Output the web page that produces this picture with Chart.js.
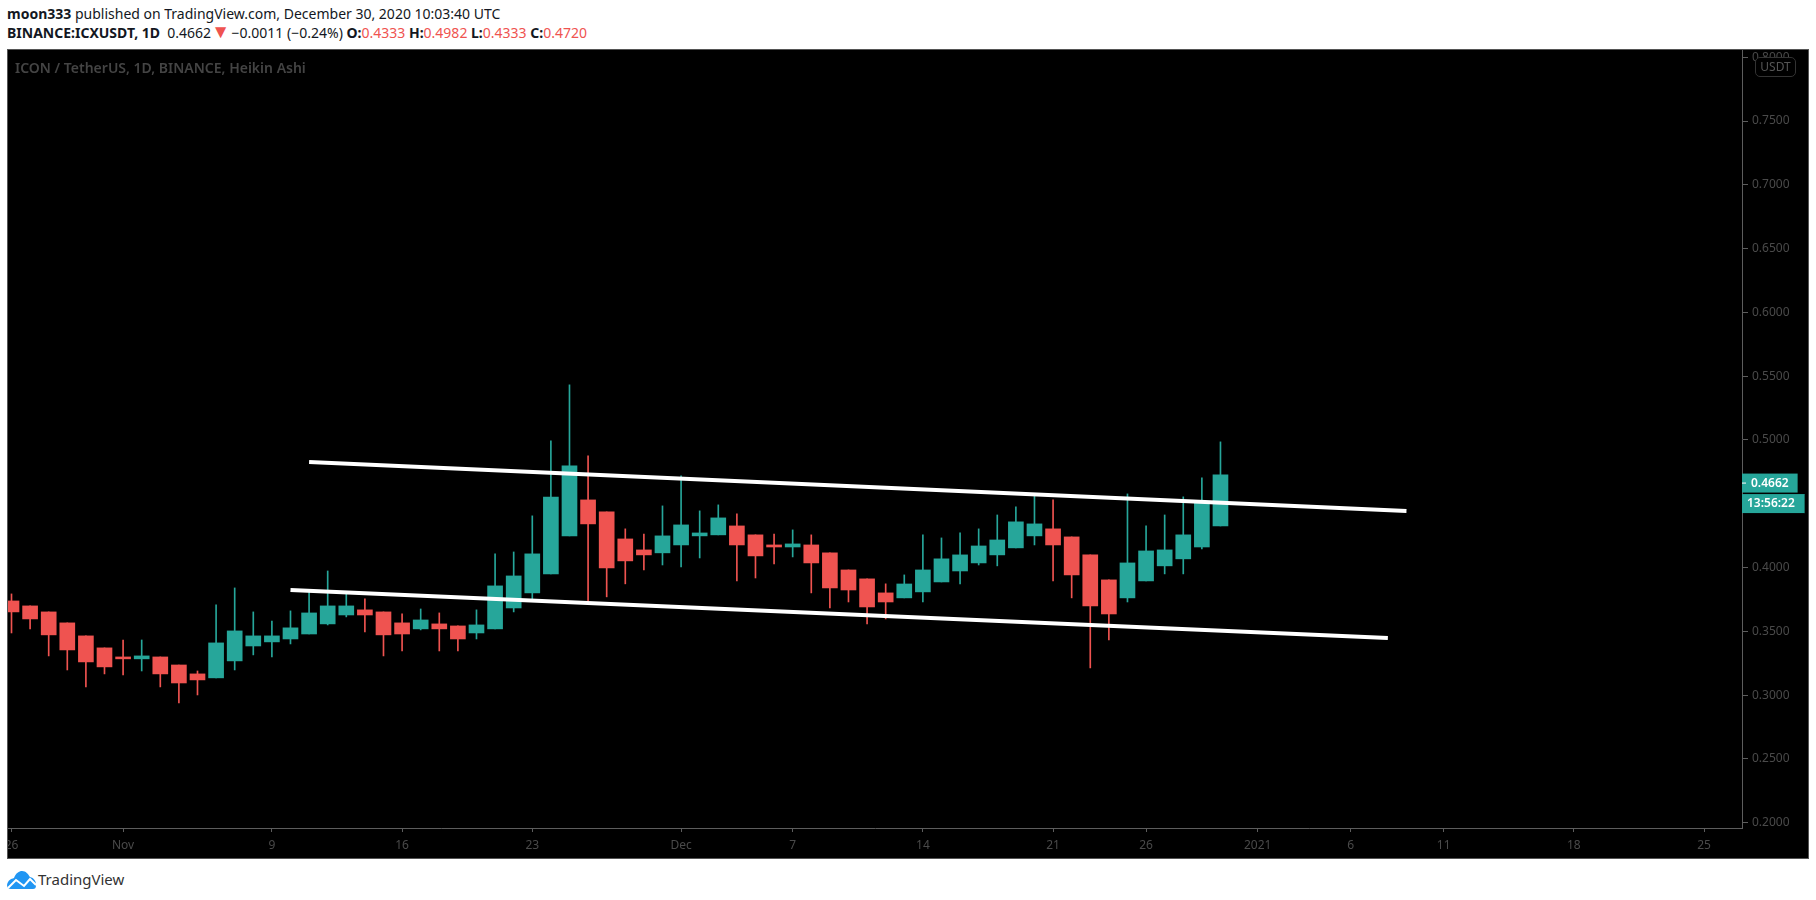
<!DOCTYPE html>
<html lang="en">
  <head>
    <meta charset="UTF-8" />
    <title>ICXUSDT</title>
    <script src="https://cdn.jsdelivr.net/npm/chart.js@4"></script>
    <style>
      html,
      body {
        margin: 0;
        background: #fff;
        font-family: "Noto Sans", sans-serif;
      }
      .head {
        position: absolute;
        left: 7px;
        font-size: 14px;
        line-height: 20px;
        color: #131722;
        white-space: nowrap;
      }
      .head b {
        font-weight: 700;
      }
      .head i {
        font-style: normal;
        color: #ef5350;
      }
      .head .arrow {
        font-size: 19px;
        line-height: 0;
        margin: 0 -2px 0 0;
      }
      #frame {
        position: absolute;
        left: 7px;
        top: 49px;
        width: 1802px;
        height: 810px;
        box-sizing: border-box;
        border: 1px solid #555;
        background: #000;
        overflow: hidden;
      }
      #chart {
        display: block;
      }
      #title {
        position: absolute;
        left: 15px;
        top: 58px;
        font-size: 14px;
        font-weight: 600;
        line-height: 20px;
        color: #444;
        white-space: nowrap;
      }
      #unit {
        position: absolute;
        left: 1755px;
        top: 57px;
        width: 39px;
        height: 18px;
        border: 1px solid #333;
        border-radius: 5px;
        background: #000;
        color: #555;
        font-size: 12px;
        line-height: 18px;
        text-align: center;
      }
      #brand {
        position: absolute;
        left: 38px;
        top: 868px;
        font-size: 15px;
        line-height: 22px;
        color: #333;
      }
      #logo {
        position: absolute;
        left: 7px;
        top: 870px;
      }
    </style>
  </head>
  <body>
    <div class="head" style="top: 4px">
      <b>moon333</b> published on TradingView.com, December 30, 2020 10:03:40 UTC
    </div>
    <div class="head" style="top: 23px">
      <b>BINANCE:ICXUSDT, 1D</b>&nbsp; 0.4662<i class="arrow">▼</i> −0.0011 (−0.24%)
      <b>O:</b><i>0.4333</i> <b>H:</b><i>0.4982</i> <b>L:</b><i>0.4333</i>
      <b>C:</b><i>0.4720</i>
    </div>
    <div id="frame"><canvas id="chart" width="1800" height="808"></canvas></div>
    <div id="title">ICON / TetherUS, 1D, BINANCE, Heikin Ashi</div>
    <div id="unit">USDT</div>
    <svg id="logo" width="30" height="20" viewBox="0 0 30 20">
      <path
        d="M0 15 C1 10 4 9 7 8 C9 3 12 1 15 1 C19 1 21 4 23 7 C27 8 29 11 29 15 C29 18 28 19 26 19 L4 19 C1 19 0 17 0 15 Z"
        fill="#2196f3"
      />
      <path d="M1 18 L9 10 L17 16 L23 9 L29 15" fill="none" stroke="#fff" stroke-width="2" />
    </svg>
    <div id="brand">TradingView</div>

    <script>
      // day number counted from Oct 26, one entry per candle
      const days = Array.from({ length: 66 }, (_, i) => i);

      const opens = [
        0.3738, 0.3699, 0.3652, 0.3566, 0.3464, 0.337, 0.3299, 0.3284, 0.3299, 0.3236, 0.3166,
        0.3135, 0.3268, 0.3385, 0.3417, 0.344, 0.3479, 0.3558, 0.3628, 0.3668, 0.3652, 0.3566,
        0.3519, 0.3558, 0.3542, 0.3487, 0.3519, 0.3683, 0.3801, 0.395, 0.4248, 0.453, 0.4436,
        0.4224, 0.4138, 0.4115, 0.4177, 0.4248, 0.4256, 0.4326, 0.4256, 0.4177, 0.4161, 0.4177,
        0.4115, 0.3981, 0.3911, 0.3801, 0.3762, 0.3809, 0.3887, 0.3973, 0.4036, 0.4099, 0.4154,
        0.4248, 0.4303, 0.424, 0.4099, 0.3903, 0.3762, 0.3895, 0.4013, 0.4068, 0.4161, 0.4326,
      ];
      const highs = [
        0.3793, 0.3699, 0.3652, 0.3566, 0.3464, 0.337, 0.3432, 0.3432, 0.3299, 0.3236, 0.3189,
        0.3707, 0.384, 0.3652, 0.3581, 0.366, 0.3824, 0.3973, 0.3798, 0.3754, 0.3652, 0.3636,
        0.3675, 0.3644, 0.3542, 0.3668, 0.4107, 0.4122, 0.4405, 0.4993, 0.5432, 0.4875, 0.4436,
        0.4303, 0.4263, 0.4483, 0.4718, 0.4444, 0.4491, 0.442, 0.4256, 0.4263, 0.4295, 0.4256,
        0.4115, 0.3981, 0.3911, 0.3872, 0.3942, 0.4256, 0.4232, 0.4271, 0.4303, 0.4412, 0.4475,
        0.4561, 0.453, 0.424, 0.4099, 0.3903, 0.4577, 0.4326, 0.4412, 0.4554, 0.4703, 0.4985,
      ];
      const lows = [
        0.3487, 0.3519, 0.3307, 0.3197, 0.3064, 0.3166, 0.3158, 0.3189, 0.3064, 0.2939, 0.3001,
        0.3135, 0.3197, 0.3315, 0.3299, 0.3401, 0.3479, 0.355, 0.3613, 0.3495, 0.3307, 0.3346,
        0.3511, 0.3346, 0.3346, 0.344, 0.3519, 0.3652, 0.3746, 0.395, 0.4248, 0.3738, 0.377,
        0.3872, 0.3981, 0.402, 0.4005, 0.4075, 0.4256, 0.3895, 0.3918, 0.4028, 0.4083, 0.3801,
        0.3683, 0.373, 0.3558, 0.3597, 0.3762, 0.373, 0.3887, 0.3871, 0.402, 0.4013, 0.4154,
        0.4177, 0.3895, 0.3762, 0.3213, 0.3432, 0.373, 0.3895, 0.395, 0.395, 0.4146, 0.4326,
      ];
      const closes = [
        0.3652, 0.3597, 0.3472, 0.3354, 0.326, 0.3221, 0.3284, 0.3307, 0.3166, 0.3095, 0.3119,
        0.3409, 0.3503, 0.3464, 0.3464, 0.3527, 0.3644, 0.3699, 0.3699, 0.3628, 0.3472, 0.3479,
        0.3589, 0.3519, 0.344, 0.355, 0.3856, 0.3934, 0.4107, 0.4553, 0.4797, 0.4342, 0.3997,
        0.4052, 0.4099, 0.4248, 0.4334, 0.4271, 0.4389, 0.4177, 0.4091, 0.4161, 0.4185, 0.4036,
        0.384, 0.3824, 0.3691, 0.373, 0.3871, 0.3981, 0.4068, 0.4099, 0.4169, 0.4216, 0.4358,
        0.4342, 0.4177, 0.3942, 0.3699, 0.3636, 0.4036, 0.413, 0.4138, 0.4256, 0.4514, 0.4726,
      ];

      // the two hand drawn channel lines
      const upperDays = [16, 75];
      const upperPrices = [0.4827, 0.4444];
      const lowerDays = [15, 74];
      const lowerPrices = [0.3824, 0.3448];

      const xTickDays = [0, 6, 14, 21, 28, 36, 42, 49, 56, 61, 67, 72, 77, 84, 91];
      const xTickLabels = ["26", "Nov", "9", "16", "23", "Dec", "7", "14", "21", "26", "2021", "6", "11", "18", "25"];
      const yTicks = [0.2, 0.25, 0.3, 0.35, 0.4, 0.45, 0.5, 0.55, 0.6, 0.65, 0.7, 0.75, 0.8];

      const lastPrice = 0.4662;
      const countdown = "13:56:22";

      const green = "#26a69a";
      const red = "#ef5350";
      const axisColor = "#5d5d5d";
      const labelColor = "#4a4a4a";
      const font = { family: "'Noto Sans', sans-serif", size: 12 };

      const candleColors = days.map((_, i) => (closes[i] >= opens[i] ? green : red));

      // tags on the price axis for the last price and the bar countdown
      const priceTags = {
        id: "priceTags",
        afterDraw(chart) {
          const c = chart.ctx;
          const y = chart.scales.y.getPixelForValue(lastPrice);
          const left = chart.chartArea.right;
          c.save();
          c.fillStyle = green;
          c.fillRect(left, y - 9.5, 55, 19);
          c.fillRect(left, y + 11, 63, 19);
          c.fillStyle = "#17695f";
          c.fillRect(left + 55, y - 9.5, 1, 19);
          c.fillRect(left + 62, y + 11, 1, 19);
          c.fillStyle = "#fff";
          c.fillRect(left, y - 0.5, 4, 1);
          c.font = "600 12px 'Noto Sans', sans-serif";
          c.textBaseline = "middle";
          c.fillText(lastPrice.toFixed(4), left + 9, y + 0.5);
          c.fillText(countdown, left + 5, y + 21);
          c.restore();
        },
      };

      new Chart(document.getElementById("chart"), {
        data: {
          datasets: [
            {
              type: "line",
              data: upperDays.map((d, i) => ({ x: d, y: upperPrices[i] })),
              borderColor: "#fff",
              borderWidth: 4,
              pointRadius: 0,
              order: 0,
            },
            {
              type: "line",
              data: lowerDays.map((d, i) => ({ x: d, y: lowerPrices[i] })),
              borderColor: "#fff",
              borderWidth: 4,
              pointRadius: 0,
              order: 0,
            },
            {
              type: "bar",
              data: days.map((d, i) => ({ x: d, y: [opens[i], closes[i]] })),
              backgroundColor: candleColors,
              barThickness: 15,
              grouped: false,
              order: 1,
            },
            {
              type: "bar",
              data: days.map((d, i) => ({ x: d, y: [lows[i], highs[i]] })),
              backgroundColor: candleColors,
              barThickness: 1,
              grouped: false,
              order: 2,
            },
          ],
        },
        options: {
          responsive: false,
          animation: false,
          plugins: { legend: { display: false }, tooltip: { enabled: false } },
          layout: { padding: 0 },
          scales: {
            x: {
              type: "linear",
              min: -0.188,
              max: 93.04,
              offset: false,
              border: { color: axisColor },
              grid: { offset: false, drawOnChartArea: false, color: axisColor, tickLength: 4 },
              ticks: {
                color: labelColor,
                font,
                padding: 6,
                maxRotation: 0,
                autoSkip: false,
                callback: (v) => xTickLabels[xTickDays.indexOf(v)],
              },
              afterBuildTicks(scale) {
                scale.ticks = xTickDays.map((value) => ({ value }));
              },
              afterFit(scale) {
                scale.height = 30;
                scale.paddingLeft = scale.paddingRight = 0;
              },
            },
            y: {
              position: "right",
              min: 0.1958,
              max: 0.8057,
              border: { color: axisColor },
              grid: { drawOnChartArea: false, color: axisColor, tickLength: 6 },
              ticks: {
                color: labelColor,
                font,
                padding: 4,
                callback: (v) => v.toFixed(4),
              },
              afterBuildTicks(scale) {
                scale.ticks = yTicks.map((value) => ({ value }));
              },
              afterFit(scale) {
                scale.width = 66;
                scale.paddingTop = scale.paddingBottom = 0;
              },
            },
          },
        },
        plugins: [priceTags],
      });
    </script>
  </body>
</html>
